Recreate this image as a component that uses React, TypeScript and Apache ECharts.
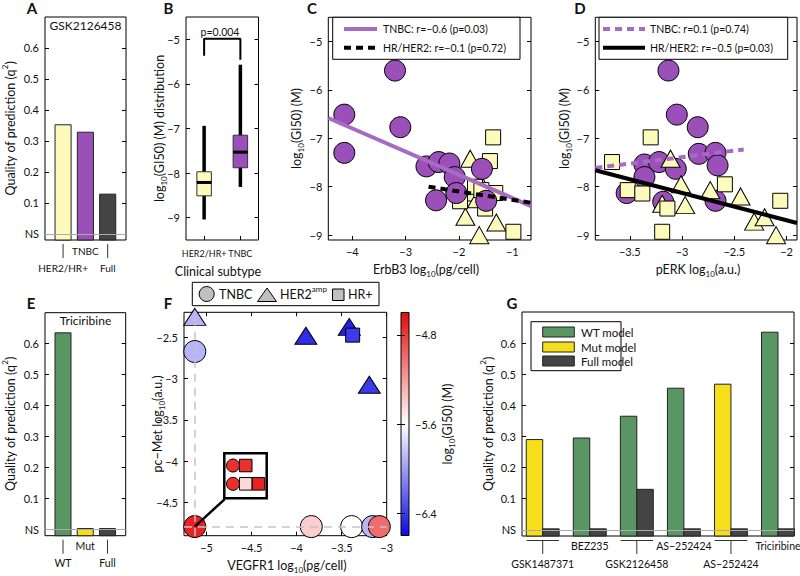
import React, { useEffect, useRef } from 'react';
import * as echarts from 'echarts';

const FONT = 'Lato, "Liberation Sans", Arial, sans-serif';

// ---------- Panel A : GSK2126458 ----------
const aTitle = 'GSK2126458';
const aCategories = ['HER2/HR+', 'TNBC', 'Full'];
const aValues = [0.352, 0.328, 0.128];
const aLevels = [1, 0, 1];

// ---------- Panel E : Triciribine ----------
const eTitle = 'Triciribine';
const eCategories = ['WT', 'Mut', 'Full'];
const eValues = [0.635, 0.003, 0.003];
const eLevels = [1, 0, 1];

const qTicks = [0, 0.1, 0.2, 0.3, 0.4, 0.5, 0.6];

// ---------- Panel B : boxplot ----------
const bCategories = ['HER2/HR+', 'TNBC'];
const bLevels = [0, 0];
const bLow = [-9.04, -8.31];
const bQ1 = [-8.51, -7.88];
const bMedian = [-8.21, -7.53];
const bQ3 = [-7.97, -7.15];
const bHigh = [-6.94, -5.57];
const bBracket = [[1, -5.37], [1, -4.985], [2, -4.985], [2, -5.46]];
const bPText = 'p=0.004';
const gi50Ticks = [-9, -8, -7, -6, -5];

// ---------- Panel C : ErbB3 ----------
const cTNBC = [[-3.2, -5.6], [-4.15, -6.51], [-3.1, -6.77], [-4.15, -7.3], [-2.61, -7.58], [-2.38, -7.49], [-2.18, -7.52], [-2.08, -7.8], [-1.57, -7.63], [-2.05, -8.13], [-2.43, -8.28], [-1.49, -8.29]];
const cHER2 = [[-1.79, -7.42], [-1.57, -7.97], [-1.72, -8.12], [-1.66, -8.26], [-1.88, -8.62], [-1.3, -8.74], [-1.62, -9.0]];
const cHR = [[-1.36, -6.98], [-1.42, -7.47], [-1.7, -8.0], [-1.32, -8.13], [-1.58, -8.07], [-1.98, -8.3], [-1.51, -8.45], [-0.98, -8.93]];
const cFitTNBC = [[-4.45, -6.58], [-0.65, -8.4]];
const cFitHR = [[-2.57, -8.0], [-0.65, -8.33]];
const cLegend = ['TNBC: r=\u22120.6 (p=0.03)', 'HR/HER2: r=\u22120.1 (p=0.72)'];

// ---------- Panel D : pERK ----------
const dTNBC = [[-3.13, -5.6], [-3.05, -6.51], [-2.85, -6.77], [-3.36, -7.54], [-3.22, -7.49], [-3.06, -7.63], [-2.84, -7.32], [-2.68, -7.3], [-2.66, -7.56], [-3.36, -7.8], [-3.53, -8.13], [-3.18, -8.31], [-2.68, -8.29]];
const dHER2 = [[-3.11, -7.42], [-3.01, -7.95], [-2.73, -8.07], [-2.44, -8.2], [-2.97, -8.38], [-3.19, -8.35], [-2.31, -8.72], [-2.21, -8.63], [-2.1, -9.0]];
const dHR = [[-3.3, -6.98], [-3.67, -7.49], [-3.52, -8.07], [-3.38, -8.14], [-3.14, -8.45], [-2.59, -7.95], [-2.06, -8.29], [-3.19, -8.93]];
const dFitTNBC = [[-3.83, -7.61], [-2.41, -7.23]];
const dFitHR = [[-3.83, -7.66], [-1.9, -8.75]];
const dLegend = ['TNBC: r=0.1 (p=0.74)', 'HR/HER2: r=\u22120.5 (p=0.03)'];

// ---------- Panel F : VEGFR1 vs pc-Met, colour = log10(GI50) ----------
const fTNBC = [[-5.13, -2.674, -5.9], [-5.13, -4.79, -4.7], [-3.837, -4.79, -5.4], [-3.389, -4.79, -5.6], [-3.156, -4.79, -5.9], [-3.082, -4.79, -5.0]];
const fHER2 = [[-5.13, -2.255, -5.9], [-3.897, -2.484, -6.45], [-3.416, -2.376, -6.5], [-3.193, -3.076, -6.4]];
const fHR = [[-3.378, -2.476, -6.4]];
const fFloorX = -5.13;
const fFloorY = -4.79;
const fConnector = [[-5.13, -4.79], [-4.797, -4.457]];
const insetTNBC = [[0, 0, -4.75], [0, 1, -4.75]];
const insetHR = [[1, 0, -4.75], [1, 1, -5.45], [2, 1, -4.7]];
const fXTicks = [-5, -4.5, -4, -3.5, -3];
const fYTicks = [-4.5, -4, -3.5, -3, -2.5];
const cbTicks = [-6.4, -5.6, -4.8];

// ---------- Panel G ----------
const gDrugs = ['GSK1487371', 'BEZ235', 'GSK2126458', 'AS\u2212252424', 'AS\u2212252424', 'Triciribine'];
const gPrimaryModel = ['Mut', 'WT', 'WT', 'WT', 'Mut', 'WT'];
const gPrimary = [0.29, 0.295, 0.365, 0.455, 0.468, 0.635];
const gFull = [0.003, 0.003, 0.13, 0.003, 0.003, 0.003];
const gLevels = [1, 0, 1, 0, 1, 0];
const gLegend = ['WT model', 'Mut model', 'Full model'];

// colours
const PURPLE = '#9b4fb8';
const PURPLE_LINE = '#a76bc6';
const LIGHT_YELLOW = '#fdfbbc';
const GREEN = '#5a9664';
const YELLOW = '#f5df1a';
const DARK = '#444444';
const CB_COLORS = ['#0a0ae6', '#ffffff', '#e60a0a'];

const minus = (v: any) => String(v).replace('-', '\u2212');
const qFmt = (v: number) => (Math.abs(v) < 1e-9 ? 'NS' : v.toFixed(1));

function buildOption() {
  const grids: any[] = [];
  const xAxes: any[] = [];
  const yAxes: any[] = [];
  const series: any[] = [];

  const addGrid = (g: any) => {
    grids.push({ show: true, borderColor: '#000', borderWidth: 1, backgroundColor: '#fff', ...g });
    return grids.length - 1;
  };
  const tick = (ticks: number[] | null) =>
    ticks ? { show: true, inside: true, length: 4, customValues: ticks, lineStyle: { color: '#000', width: 1 } } : { show: false };
  const label = (ticks: number[] | null, fmt: any, margin = 5) =>
    ticks && fmt ? { show: true, customValues: ticks, formatter: fmt, fontSize: 11, fontFamily: FONT, color: '#111', margin } : { show: false };

  const addX = (gridIndex: number, min: number, max: number, ticks: number[] | null, fmt: any, top = true, extra: any = {}) => {
    const base = { type: 'value', gridIndex, min, max, splitLine: { show: false }, axisLine: { show: false }, ...extra };
    xAxes.push({ ...base, position: 'bottom', axisTick: tick(ticks), axisLabel: label(ticks, fmt, 6) });
    const idx = xAxes.length - 1;
    if (top && ticks) xAxes.push({ ...base, position: 'top', axisTick: tick(ticks), axisLabel: { show: false } });
    return idx;
  };
  const addY = (gridIndex: number, min: number, max: number, ticks: number[] | null, fmt: any, extra: any = {}, labelRight = false) => {
    const base = { type: 'value', gridIndex, min, max, splitLine: { show: false }, axisLine: { show: false }, ...extra };
    yAxes.push({ ...base, position: labelRight ? 'right' : 'left', axisTick: tick(ticks), axisLabel: label(ticks, fmt, 6) });
    const idx = yAxes.length - 1;
    if (ticks) yAxes.push({ ...base, position: labelRight ? 'left' : 'right', axisTick: tick(ticks), axisLabel: { show: false } });
    return idx;
  };

  const nsLine = (xi: number, yi: number) => ({
    type: 'line', xAxisIndex: xi, yAxisIndex: yi, data: [], z: 1, silent: true,
    markLine: { silent: true, symbol: 'none', label: { show: false }, lineStyle: { color: '#aaaaaa', width: 1, type: 'solid' }, data: [{ yAxis: 0 }] },
  });

  const barRender = (widthUnits: number, colors: string[]) => (params: any, api: any) => {
    const x = api.value(0);
    const y = api.value(1);
    const ci = api.value(2);
    const cs = params.coordSys;
    const bottom = cs.y + cs.height;
    const p = api.coord([x, y]);
    const w = api.size([widthUnits, 0])[0];
    return {
      type: 'rect',
      shape: { x: p[0] - w / 2, y: p[1], width: w, height: bottom - p[1] },
      style: { fill: colors[ci], stroke: '#222', lineWidth: 1 },
    };
  };

  const catLabelRender = (labels: string[], levels: number[], spanUnits: number, hline: boolean, fs: number, hiOff: number, loOff: number) => (params: any, api: any) => {
    const i = params.dataIndex;
    const cs = params.coordSys;
    const bottom = cs.y + cs.height;
    const cx = api.coord([api.value(0), api.value(1)])[0];
    const low = levels[i] === 1;
    const children: any[] = [];
    if (low) {
      children.push({ type: 'line', shape: { x1: cx, y1: bottom + 4, x2: cx, y2: bottom + 18 }, style: { stroke: '#333', lineWidth: 1 } });
      if (hline) {
        const half = api.size([spanUnits, 0])[0] / 2;
        children.push({ type: 'line', shape: { x1: cx - half, y1: bottom + 4.5, x2: cx + half, y2: bottom + 4.5 }, style: { stroke: '#333', lineWidth: 1 } });
      }
    }
    children.push({
      type: 'text', x: cx, y: bottom + (low ? loOff : hiOff),
      style: { text: labels[i], align: 'center', verticalAlign: 'middle', fontSize: fs, fontFamily: FONT, fill: '#111' },
    });
    return { type: 'group', children };
  };

  // ================= A =================
  const gA = addGrid({ left: 45, top: 17, width: 81, height: 223 });
  const xA = addX(gA, 0.19, 3.82, null, null);
  const yA = addY(gA, -0.02, 0.7, qTicks, qFmt);
  series.push(nsLine(xA, yA));
  series.push({
    type: 'custom', xAxisIndex: xA, yAxisIndex: yA, z: 2,
    renderItem: barRender(0.72, [LIGHT_YELLOW, PURPLE, DARK]),
    data: aValues.map((v, i) => [i + 1, v, i]),
  });
  series.push({
    type: 'custom', xAxisIndex: xA, yAxisIndex: yA, z: 2, clip: false,
    renderItem: catLabelRender(aCategories, aLevels, 0, false, 10, 10.5, 28),
    data: aCategories.map((_, i) => [i + 1, 0]),
  });

  // ================= E =================
  const gE = addGrid({ left: 45, top: 312.7, width: 80.7, height: 223 });
  const xE = addX(gE, 0.19, 3.82, null, null);
  const yE = addY(gE, -0.02, 0.7, qTicks, qFmt);
  series.push(nsLine(xE, yE));
  series.push({
    type: 'custom', xAxisIndex: xE, yAxisIndex: yE, z: 2,
    renderItem: barRender(0.72, [GREEN, YELLOW, DARK]),
    data: eValues.map((v, i) => [i + 1, v, i]),
  });
  series.push({
    type: 'custom', xAxisIndex: xE, yAxisIndex: yE, z: 2, clip: false,
    renderItem: catLabelRender(eCategories, eLevels, 0, false, 10.5, 10, 27.5),
    data: eCategories.map((_, i) => [i + 1, 0]),
  });

  // ================= G =================
  const gG = addGrid({ left: 522, top: 312, width: 272, height: 224 });
  const xG = addX(gG, 0.56, 6.34, null, null);
  const yG = addY(gG, -0.02, 0.7, qTicks, qFmt);
  series.push(nsLine(xG, yG));
  const gBarData: any[] = [];
  gDrugs.forEach((_, i) => {
    gBarData.push([i + 1 - 0.175, gPrimary[i], gPrimaryModel[i] === 'WT' ? 0 : 1]);
    gBarData.push([i + 1 + 0.175, gFull[i], 2]);
  });
  series.push({
    type: 'custom', xAxisIndex: xG, yAxisIndex: yG, z: 2,
    renderItem: barRender(0.35, [GREEN, YELLOW, DARK]),
    data: gBarData,
  });
  series.push({
    type: 'custom', xAxisIndex: xG, yAxisIndex: yG, z: 2, clip: false,
    renderItem: catLabelRender(gDrugs, gLevels, 0.69, true, 10.5, 9.5, 27.5),
    data: gDrugs.map((_, i) => [i + 1, 0]),
  });

  // ================= B =================
  const gB = addGrid({ left: 186, top: 17, width: 72.5, height: 223 });
  const xB = addX(gB, 0.5, 2.5, [1, 2], null, false);
  const yB = addY(gB, -9.5, -4.5, gi50Ticks, minus);
  series.push({
    type: 'custom', xAxisIndex: xB, yAxisIndex: yB, z: 2,
    renderItem: (params: any, api: any) => {
      const x = api.value(0);
      const pLow = api.coord([x, api.value(1)]);
      const yQ1 = api.coord([x, api.value(2)])[1];
      const yMed = api.coord([x, api.value(3)])[1];
      const yQ3 = api.coord([x, api.value(4)])[1];
      const yHigh = api.coord([x, api.value(5)])[1];
      const w = api.size([0.4, 0])[0];
      const cx = pLow[0];
      return {
        type: 'group',
        children: [
          { type: 'line', shape: { x1: cx, y1: pLow[1], x2: cx, y2: yHigh }, style: { stroke: '#000', lineWidth: 3.5 } },
          { type: 'rect', shape: { x: cx - w / 2, y: yQ3, width: w, height: yQ1 - yQ3 }, style: { fill: params.dataIndex === 0 ? LIGHT_YELLOW : PURPLE, stroke: '#333', lineWidth: 1 } },
          { type: 'line', shape: { x1: cx - w / 2, y1: yMed, x2: cx + w / 2, y2: yMed }, style: { stroke: '#000', lineWidth: 3 } },
        ],
      };
    },
    data: bCategories.map((_, i) => [i + 1, bLow[i], bQ1[i], bMedian[i], bQ3[i], bHigh[i]]),
  });
  series.push({
    type: 'custom', xAxisIndex: xB, yAxisIndex: yB, z: 2, clip: false,
    renderItem: catLabelRender(bCategories, bLevels, 0, false, 9, 13, 13),
    data: bCategories.map((_, i) => [i + 1, -9]),
  });
  series.push({
    type: 'line', xAxisIndex: xB, yAxisIndex: yB, data: bBracket, symbol: 'none', z: 3,
    lineStyle: { color: '#000', width: 2 },
  });

  // ================= C =================
  const gC = addGrid({ left: 328.3, top: 17.3, width: 202.7, height: 222.7 });
  const xC = addX(gC, -4.45, -0.65, [-4, -3, -2, -1], minus);
  const yC = addY(gC, -9.1, -4.5, gi50Ticks, minus);
  const sc = (xi: number, yi: number, data: any[], symbol: string, size: any, color: string | null, z: number) => ({
    type: 'scatter', xAxisIndex: xi, yAxisIndex: yi, data, symbol, symbolSize: size, z, clip: false,
    itemStyle: color ? { color, borderColor: '#000', borderWidth: 1, opacity: 1 } : { borderColor: '#000', borderWidth: 1, opacity: 1 },
  });
  const fit = (xi: number, yi: number, data: any[], color: string, dashed: boolean) => ({
    type: 'line', xAxisIndex: xi, yAxisIndex: yi, data, symbol: 'none', z: 5,
    lineStyle: { color, width: 4, type: dashed ? [7, 5] : 'solid', cap: 'butt' },
  });
  series.push(sc(xC, yC, cHER2, 'triangle', [19, 17], LIGHT_YELLOW, 2));
  series.push(sc(xC, yC, cHR, 'rect', 15, LIGHT_YELLOW, 2));
  series.push(sc(xC, yC, cTNBC, 'circle', 21, PURPLE, 3));
  series.push(fit(xC, yC, cFitTNBC, PURPLE_LINE, false));
  series.push(fit(xC, yC, cFitHR, '#000', true));

  // ================= D =================
  const gD = addGrid({ left: 595.3, top: 17.3, width: 201.7, height: 222.7 });
  const xD = addX(gD, -3.83, -1.9, [-3.5, -3, -2.5, -2], minus);
  const yD = addY(gD, -9.1, -4.5, gi50Ticks, minus);
  series.push(sc(xD, yD, dTNBC, 'circle', 21, PURPLE, 2));
  series.push(sc(xD, yD, dHER2, 'triangle', [19, 17], LIGHT_YELLOW, 3));
  series.push(sc(xD, yD, dHR, 'rect', 15, LIGHT_YELLOW, 3));
  series.push(fit(xD, yD, dFitTNBC, PURPLE_LINE, true));
  series.push(fit(xD, yD, dFitHR, '#000', false));

  // ================= F =================
  const gF = addGrid({ left: 184, top: 312.3, width: 202.7, height: 223.4 });
  const xF = addX(gF, -5.25, -3, fXTicks, minus);
  const yF = addY(gF, -4.9, -2.2, fYTicks, minus);
  series.push({
    type: 'line', xAxisIndex: xF, yAxisIndex: yF, data: [], z: 1, silent: true,
    markLine: { silent: true, symbol: 'none', label: { show: false }, lineStyle: { color: '#c4c4c4', width: 1.5, type: [8, 6] }, data: [{ xAxis: fFloorX }, { yAxis: fFloorY }] },
  });
  const fIdx: number[] = [];
  series.push(sc(xF, yF, fTNBC, 'circle', 22, null, 3)); fIdx.push(series.length - 1);
  series.push(sc(xF, yF, fHER2, 'triangle', [22, 17], null, 3)); fIdx.push(series.length - 1);
  series.push(sc(xF, yF, fHR, 'rect', 14, null, 4)); fIdx.push(series.length - 1);
  series.push({ type: 'line', xAxisIndex: xF, yAxisIndex: yF, data: fConnector, symbol: 'none', z: 6, lineStyle: { color: '#000', width: 2.5 } });

  // colour bar
  const gCB = addGrid({ left: 401, top: 312.5, width: 8, height: 223, show: false });
  const xCB = addX(gCB, 0, 1, null, null);
  const yCB = addY(gCB, -6.6, -4.6, cbTicks, (v: number) => minus(v.toFixed(1)), { z: 10 }, true);
  series.push({
    type: 'custom', xAxisIndex: xCB, yAxisIndex: yCB, z: 2, silent: true,
    renderItem: (params: any) => {
      const cs = params.coordSys;
      return {
        type: 'rect', shape: { x: cs.x, y: cs.y, width: cs.width, height: cs.height },
        style: {
          stroke: '#000', lineWidth: 1,
          fill: new echarts.graphic.LinearGradient(0, 0, 0, 1, [
            { offset: 0, color: CB_COLORS[2] }, { offset: 0.5, color: CB_COLORS[1] }, { offset: 1, color: CB_COLORS[0] },
          ]),
        },
      };
    },
    data: [[0.5, -5.6]],
  });

  // inset
  const gIn = addGrid({ left: 224.3, top: 453.3, width: 42.4, height: 45, borderWidth: 2.5 });
  const xIn = addX(gIn, -0.68, 2.64, null, null);
  const yIn = addY(gIn, -0.667, 1.79, null, null, { inverse: true });
  series.push(sc(xIn, yIn, insetTNBC, 'circle', 13, null, 7)); fIdx.push(series.length - 1);
  series.push(sc(xIn, yIn, insetHR, 'rect', 12.5, null, 7)); fIdx.push(series.length - 1);

  // ================= graphic (titles, legends, letters) =================
  const rich = {
    sub: { fontSize: 8, fontFamily: FONT, verticalAlign: 'bottom', lineHeight: 10, fill: '#111' },
    sup: { fontSize: 8, fontFamily: FONT, verticalAlign: 'top', lineHeight: 10, fill: '#111' },
  };
  const txt = (text: string, x: number, y: number, opts: any = {}) => ({
    type: 'text', x, y, z: 100, rotation: opts.rot ? Math.PI / 2 : 0,
    style: {
      text, rich, fill: '#111', fontFamily: FONT, fontSize: opts.fs || 12.5, fontWeight: opts.bold ? 'bold' : 'normal',
      lineHeight: opts.lh || 18, align: opts.align || 'center', verticalAlign: opts.va || 'middle',
    },
  });
  const letter = (t: string, x: number, y: number) => txt(t, x, y, { bold: true, fs: 15, lh: 15, va: 'top' });
  const qTitle = 'Quality of prediction (q{sup|2})';
  const graphic: any[] = [
    // panel letters
    letter('A', 32, 0),
    letter('B', 168.5, 0),
    letter('C', 312, 0),
    letter('D', 580, 0),
    letter('E', 31, 295),
    letter('F', 168, 295),
    letter('G', 512, 295),
    // axis titles
    txt(qTitle, 10, 128.5, { rot: true }),
    txt(qTitle, 10, 424, { rot: true }),
    txt(qTitle, 488, 424, { rot: true }),
    txt('log{sub|10}(GI50) (M) distribution', 159, 128.5, { rot: true }),
    txt('Clinical subtype', 218, 271),
    txt(bPText, 220, 32, { fs: 10.5, lh: 12 }),
    txt('log{sub|10}(GI50) (M)', 296, 128.5, { rot: true }),
    txt('ErbB3 log{sub|10}(pg/cell)', 426, 269),
    txt('log{sub|10}(GI50) (M)', 564, 128.5, { rot: true }),
    txt('pERK log{sub|10}(a.u.)', 698, 269),
    txt('pc\u2212Met log{sub|10}(a.u.)', 157, 424, { rot: true }),
    txt('VEGFR1 log{sub|10}(pg/cell)', 287, 565),
    txt('log{sub|10}(GI50) (M)', 447, 424, { rot: true }),
    // panel titles
    txt(aTitle, 85.5, 25.5, { fs: 12 }),
    txt(eTitle, 85.5, 320.5, { fs: 12 }),
    // C legend
    { type: 'rect', z: 99, shape: { x: 332.7, y: 17.3, width: 187.3, height: 42 }, style: { fill: '#fff', stroke: '#000', lineWidth: 1 } },
    { type: 'line', z: 100, shape: { x1: 344, y1: 29, x2: 377, y2: 29 }, style: { stroke: PURPLE_LINE, lineWidth: 4 } },
    { type: 'line', z: 100, shape: { x1: 344, y1: 47.7, x2: 377, y2: 47.7 }, style: { stroke: '#000', lineWidth: 4, lineDash: [7, 5] } },
    txt(cLegend[0], 383, 29, { fs: 10.5, align: 'left' }),
    txt(cLegend[1], 383, 47.7, { fs: 10.5, align: 'left' }),
    // D legend
    { type: 'rect', z: 99, shape: { x: 599, y: 17.3, width: 188.7, height: 42 }, style: { fill: '#fff', stroke: '#000', lineWidth: 1 } },
    { type: 'line', z: 100, shape: { x1: 603, y1: 29, x2: 645, y2: 29 }, style: { stroke: PURPLE_LINE, lineWidth: 4, lineDash: [7, 5] } },
    { type: 'line', z: 100, shape: { x1: 603, y1: 47.7, x2: 645, y2: 47.7 }, style: { stroke: '#000', lineWidth: 4 } },
    txt(dLegend[0], 650, 29, { fs: 10.5, align: 'left' }),
    txt(dLegend[1], 650, 47.7, { fs: 10.5, align: 'left' }),
    // F legend
    { type: 'rect', z: 99, shape: { x: 192.3, y: 282.3, width: 186.7, height: 23.4 }, style: { fill: '#fff', stroke: '#000', lineWidth: 1 } },
    { type: 'circle', z: 100, shape: { cx: 206.7, cy: 294, r: 7.5 }, style: { fill: '#c0c0c0', stroke: '#000', lineWidth: 1 } },
    txt('TNBC', 219, 294.3, { align: 'left' }),
    { type: 'polygon', z: 100, shape: { points: [[257.5, 301.5], [276.5, 301.5], [267, 288]] }, style: { fill: '#c0c0c0', stroke: '#000', lineWidth: 1 } },
    txt('HER2{sup|amp}', 280, 294.3, { align: 'left' }),
    { type: 'rect', z: 100, shape: { x: 332.5, y: 289, width: 11.5, height: 11.5 }, style: { fill: '#c0c0c0', stroke: '#000', lineWidth: 1 } },
    txt('HR+', 348, 294.3, { align: 'left' }),
    // G legend
    { type: 'rect', z: 99, shape: { x: 531, y: 321.7, width: 90, height: 49 }, style: { fill: '#fff', stroke: '#000', lineWidth: 1 } },
    ...[GREEN, YELLOW, DARK].map((c, i) => ({ type: 'rect', z: 100, shape: { x: 542.7, y: [332, 347, 361][i] - 5, width: 31.6, height: 10 }, style: { fill: c, stroke: '#222', lineWidth: 1 } })),
    ...gLegend.map((t, i) => txt(t, 581, [332, 347, 361][i], { fs: 11.5, align: 'left' })),
  ];

  return {
    animation: false,
    backgroundColor: '#fff',
    textStyle: { fontFamily: FONT },
    grid: grids,
    xAxis: xAxes,
    yAxis: yAxes,
    visualMap: [{
      type: 'continuous', show: false, min: -6.6, max: -4.6, dimension: 2, seriesIndex: fIdx,
      inRange: { color: CB_COLORS },
    }],
    series,
    graphic,
  };
}

export default function App() {
  const ref = useRef<HTMLDivElement>(null);
  useEffect(() => {
    if (!ref.current) return;
    const chart = echarts.init(ref.current, null, { renderer: 'svg' });
    chart.setOption(buildOption() as any);
    return () => chart.dispose();
  }, []);
  return <div ref={ref} style={{ position: 'absolute', left: 0, top: 0, width: 800, height: 576, background: '#fff' }} />;
}
